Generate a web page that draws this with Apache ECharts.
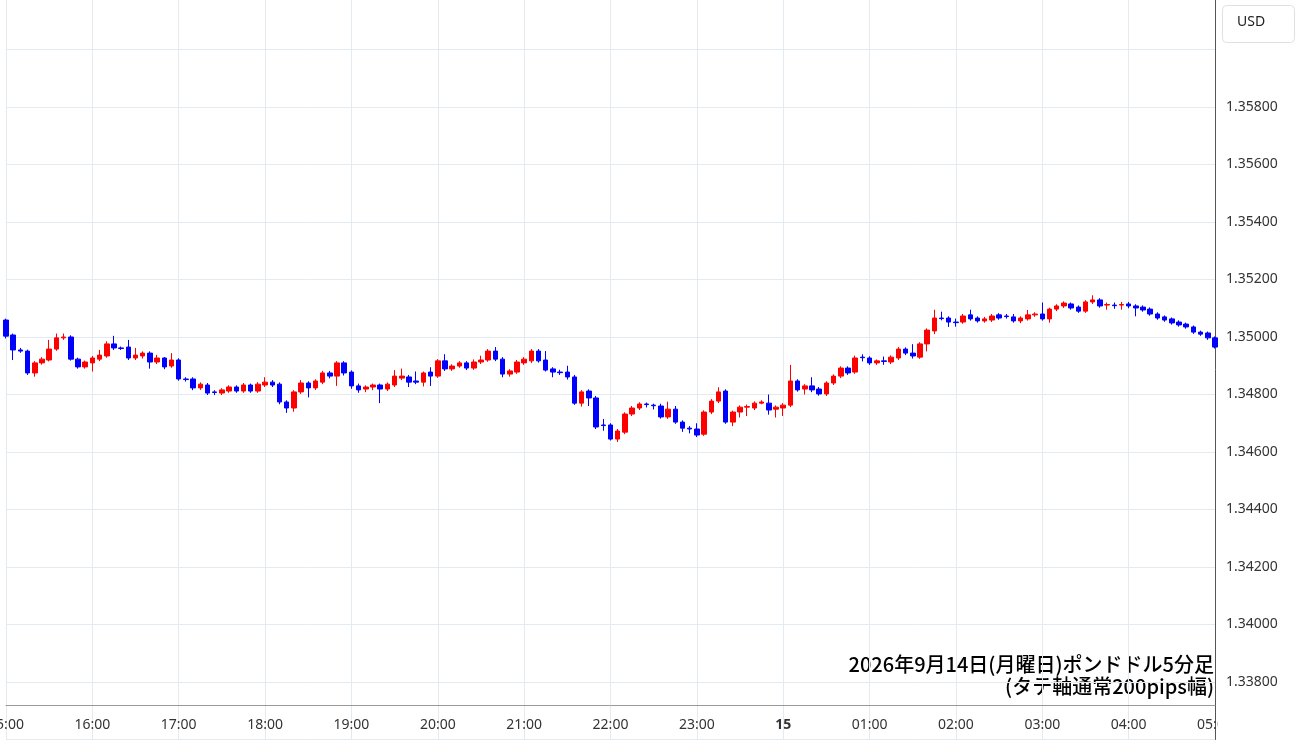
<!DOCTYPE html>
<html><head><meta charset="utf-8">
<script src="https://cdn.jsdelivr.net/npm/echarts@6/dist/echarts.min.js"></script>
<style>html,body{margin:0;padding:0;background:#fff}#c{width:1300px;height:745px}</style>
</head><body><div id="c"></div>
<script>
// hour tick labels (every 12 five-minute candles)
const hourLabels = ['15:00','16:00','17:00','18:00','19:00','20:00','21:00','22:00','23:00','15','01:00','02:00','03:00','04:00','05:00'];
// [open, close] per 5-minute candle
const oc = [
[1.35059,1.35003],[1.35007,1.34955],[1.34955,1.34951],[1.34951,1.34875],[1.34875,1.34910],[1.34910,1.34923],[1.34920,1.34958],[1.34958,1.34997],[1.34997,1.35000],[1.35000,1.34923],
[1.34923,1.34896],[1.34896,1.34913],[1.34910,1.34927],[1.34923,1.34937],[1.34934,1.34976],[1.34976,1.34962],[1.34962,1.34960],[1.34965,1.34927],[1.34927,1.34937],[1.34934,1.34944],
[1.34944,1.34913],[1.34913,1.34927],[1.34927,1.34896],[1.34899,1.34920],[1.34920,1.34854],[1.34854,1.34852],[1.34854,1.34823],[1.34823,1.34836],[1.34833,1.34805],[1.34809,1.34807],
[1.34805,1.34816],[1.34812,1.34826],[1.34826,1.34812],[1.34812,1.34833],[1.34833,1.34812],[1.34812,1.34836],[1.34833,1.34843],[1.34843,1.34833],[1.34836,1.34774],[1.34774,1.34753],
[1.34753,1.34809],[1.34809,1.34840],[1.34840,1.34823],[1.34823,1.34847],[1.34843,1.34875],[1.34875,1.34864],[1.34864,1.34910],[1.34910,1.34875],[1.34878,1.34830],[1.34830,1.34816],
[1.34819,1.34826],[1.34826,1.34833],[1.34833,1.34819],[1.34819,1.34836],[1.34833,1.34864],[1.34857,1.34864],[1.34861,1.34843],[1.34847,1.34843],[1.34843,1.34875],[1.34878,1.34864],
[1.34864,1.34917],[1.34917,1.34889],[1.34889,1.34899],[1.34899,1.34910],[1.34910,1.34892],[1.34892,1.34913],[1.34913,1.34920],[1.34920,1.34951],[1.34951,1.34923],[1.34923,1.34871],
[1.34871,1.34882],[1.34878,1.34913],[1.34910,1.34923],[1.34917,1.34951],[1.34951,1.34917],[1.34920,1.34885],[1.34889,1.34878],[1.34878,1.34876],[1.34878,1.34861],[1.34861,1.34770],
[1.34770,1.34809],[1.34812,1.34788],[1.34788,1.34687],[1.34694,1.34692],[1.34694,1.34645],[1.34645,1.34673],[1.34669,1.34732],[1.34732,1.34753],[1.34753,1.34767],[1.34767,1.34765],
[1.34763,1.34761],[1.34760,1.34722],[1.34722,1.34749],[1.34749,1.34704],[1.34704,1.34683],[1.34683,1.34680],[1.34680,1.34659],[1.34662,1.34739],[1.34739,1.34777],[1.34777,1.34809],
[1.34812,1.34704],[1.34704,1.34739],[1.34739,1.34756],[1.34756,1.34758],[1.34753,1.34770],[1.34770,1.34774],[1.34770,1.34746],[1.34749,1.34756],[1.34753,1.34763],[1.34763,1.34847],
[1.34847,1.34816],[1.34819,1.34830],[1.34830,1.34816],[1.34819,1.34802],[1.34802,1.34840],[1.34840,1.34864],[1.34864,1.34892],[1.34892,1.34875],[1.34878,1.34927],[1.34930,1.34928],
[1.34927,1.34910],[1.34910,1.34917],[1.34917,1.34915],[1.34913,1.34930],[1.34927,1.34958],[1.34958,1.34944],[1.34944,1.34934],[1.34930,1.34976],[1.34976,1.35024],[1.35021,1.35066],
[1.35066,1.35064],[1.35066,1.35052],[1.35052,1.35050],[1.35052,1.35073],[1.35077,1.35063],[1.35066,1.35056],[1.35056,1.35063],[1.35059,1.35073],[1.35077,1.35066],[1.35073,1.35071],
[1.35070,1.35056],[1.35056,1.35066],[1.35063,1.35077],[1.35077,1.35080],[1.35080,1.35063],[1.35063,1.35097],[1.35097,1.35108],[1.35108,1.35118],[1.35115,1.35101],[1.35104,1.35090],
[1.35090,1.35122],[1.35122,1.35129],[1.35129,1.35108],[1.35111,1.35113],[1.35111,1.35109],[1.35111,1.35113],[1.35115,1.35108],[1.35108,1.35101],[1.35104,1.35094],[1.35097,1.35080],
[1.35080,1.35066],[1.35070,1.35059],[1.35063,1.35049],[1.35052,1.35042],[1.35045,1.35035],[1.35035,1.35017],[1.35017,1.35010],[1.35014,1.34997],[1.34997,1.34965]
];
// [low, high] per candle
const lh = [
[1.34995,1.35064],[1.34920,1.35012],[1.34945,1.34962],[1.34868,1.34956],[1.34862,1.34916],[1.34904,1.34930],[1.34915,1.34990],[1.34952,1.35012],[1.34990,1.35012],[1.34918,1.35006],
[1.34890,1.34928],[1.34890,1.34918],[1.34880,1.34934],[1.34916,1.34955],[1.34928,1.34985],[1.34955,1.35004],[1.34955,1.34967],[1.34920,1.34990],[1.34920,1.34962],[1.34925,1.34950],
[1.34890,1.34950],[1.34906,1.34938],[1.34888,1.34930],[1.34893,1.34944],[1.34848,1.34926],[1.34845,1.34860],[1.34815,1.34860],[1.34816,1.34842],[1.34798,1.34840],[1.34798,1.34815],
[1.34798,1.34822],[1.34806,1.34832],[1.34806,1.34832],[1.34806,1.34840],[1.34806,1.34838],[1.34806,1.34843],[1.34826,1.34860],[1.34826,1.34850],[1.34766,1.34842],[1.34736,1.34780],
[1.34740,1.34815],[1.34802,1.34850],[1.34790,1.34846],[1.34816,1.34853],[1.34836,1.34882],[1.34856,1.34882],[1.34830,1.34916],[1.34866,1.34916],[1.34820,1.34884],[1.34806,1.34838],
[1.34808,1.34832],[1.34815,1.34838],[1.34770,1.34838],[1.34812,1.34842],[1.34826,1.34885],[1.34850,1.34890],[1.34826,1.34868],[1.34836,1.34880],[1.34828,1.34880],[1.34830,1.34895],
[1.34858,1.34923],[1.34882,1.34940],[1.34882,1.34905],[1.34893,1.34916],[1.34885,1.34916],[1.34886,1.34922],[1.34906,1.34935],[1.34914,1.34958],[1.34916,1.34965],[1.34860,1.34930],
[1.34862,1.34888],[1.34872,1.34920],[1.34903,1.34930],[1.34910,1.34958],[1.34911,1.34958],[1.34880,1.34951],[1.34860,1.34895],[1.34868,1.34886],[1.34852,1.34900],[1.34764,1.34868],
[1.34758,1.34815],[1.34760,1.34818],[1.34680,1.34795],[1.34674,1.34715],[1.34640,1.34700],[1.34635,1.34680],[1.34662,1.34738],[1.34725,1.34760],[1.34746,1.34773],[1.34755,1.34772],
[1.34748,1.34768],[1.34716,1.34768],[1.34715,1.34775],[1.34698,1.34760],[1.34670,1.34710],[1.34665,1.34690],[1.34652,1.34700],[1.34656,1.34745],[1.34732,1.34784],[1.34770,1.34825],
[1.34698,1.34818],[1.34690,1.34744],[1.34720,1.34762],[1.34725,1.34765],[1.34746,1.34776],[1.34766,1.34780],[1.34730,1.34800],[1.34720,1.34762],[1.34725,1.34770],[1.34756,1.34903],
[1.34810,1.34853],[1.34800,1.34836],[1.34808,1.34860],[1.34796,1.34826],[1.34795,1.34846],[1.34833,1.34870],[1.34857,1.34898],[1.34868,1.34898],[1.34872,1.34935],[1.34915,1.34940],
[1.34903,1.34933],[1.34903,1.34922],[1.34903,1.34932],[1.34906,1.34936],[1.34920,1.34965],[1.34937,1.34964],[1.34925,1.34975],[1.34924,1.34982],[1.34950,1.35030],[1.35010,1.35095],
[1.35058,1.35088],[1.35035,1.35072],[1.35036,1.35064],[1.35046,1.35080],[1.35057,1.35095],[1.35050,1.35072],[1.35050,1.35070],[1.35052,1.35080],[1.35060,1.35083],[1.35064,1.35080],
[1.35050,1.35080],[1.35048,1.35072],[1.35057,1.35094],[1.35070,1.35086],[1.35057,1.35120],[1.35050,1.35102],[1.35090,1.35114],[1.35101,1.35124],[1.35095,1.35120],[1.35084,1.35110],
[1.35084,1.35128],[1.35115,1.35145],[1.35102,1.35135],[1.35095,1.35120],[1.35098,1.35120],[1.35095,1.35122],[1.35100,1.35122],[1.35072,1.35114],[1.35088,1.35110],[1.35074,1.35103],
[1.35060,1.35086],[1.35053,1.35075],[1.35043,1.35068],[1.35036,1.35058],[1.35029,1.35050],[1.35011,1.35040],[1.35004,1.35022],[1.34990,1.35019],[1.34960,1.35002]
];
const cats = oc.map((_, i) => (i % 12 === 0) ? hourLabels[i / 12] : String(i));
const data = oc.map((v, i) => [v[0], v[1], lh[i][0], lh[i][1]]);
const chart = echarts.init(document.getElementById('c'));
const isHour = (i) => i % 12 === 0;
chart.setOption({
  animation: false,
  grid: { left: 6, right: 85, top: -8, bottom: 5.5, outerBoundsMode: 'none', containLabel: false },
  xAxis: {
    type: 'category', data: cats, boundaryGap: false, offset: -34.5,
    axisLine: { lineStyle: { color: '#999' } },
    axisTick: { show: false },
    axisLabel: { interval: (i) => isHour(i), color: '#333', fontSize: 14, margin: 13,
      fontFamily: 'Noto Sans', hideOverlap: false, showMinLabel: true, showMaxLabel: true,
      formatter: (v) => v.indexOf(':') < 0 ? '{b|' + v + '}' : v,
      rich: { b: { fontWeight: 'bold', fontSize: 14, color: '#333', fontFamily: 'Noto Sans' } } },
    splitLine: { show: true, interval: (i) => isHour(i), lineStyle: { color: '#e3ebf0' } }
  },
  yAxis: {
    type: 'value', position: 'right', min: 1.336, max: 1.362, interval: 0.002,
    axisLine: { show: true, lineStyle: { color: '#555' } },
    axisTick: { show: false },
    axisLabel: { color: '#333', fontSize: 14, fontFamily: 'Noto Sans', margin: 11,
      formatter: (v) => (v < 1.3375 || v > 1.3595) ? '' : v.toFixed(5) },
    splitLine: { lineStyle: { color: '#e3ebf0' } }
  },
  series: [{
    type: 'candlestick', data: data, barWidth: 5,
    itemStyle: { color: '#ff0000', color0: '#0000ff', borderColor: '#ff0000', borderColor0: '#0000ff', borderWidth: 1 }
  }],
  graphic: [
    { type: 'rect', left: 0, top: 706, shape: { width: 1216, height: 40 }, style: { fill: '#fff' }, z: -1, silent: true },
    { type: 'rect', left: 1218, top: 706, shape: { width: 82, height: 39 }, style: { fill: '#fff' }, z: 100, silent: true },
    { type: 'rect', left: 1222, top: 5, shape: { width: 72, height: 37, r: 4 }, style: { fill: '#fff', stroke: '#e0e0e0', lineWidth: 1 } },
    { type: 'text', left: 1237, top: 15, style: { text: 'USD', fill: '#222', font: '14px "Noto Sans"' } },
    { type: 'text', right: 86, top: 654, style: { text: '2026年9月14日(月曜日)ポンドドル5分足', fill: '#000', font: '500 20px "Noto Sans CJK JP"', align: 'right' } },
    { type: 'text', right: 86, top: 676, style: { text: '(タテ軸通常200pips幅)', fill: '#000', font: '500 20px "Noto Sans CJK JP"', align: 'right' } }
  ]
});
</script></body></html>
